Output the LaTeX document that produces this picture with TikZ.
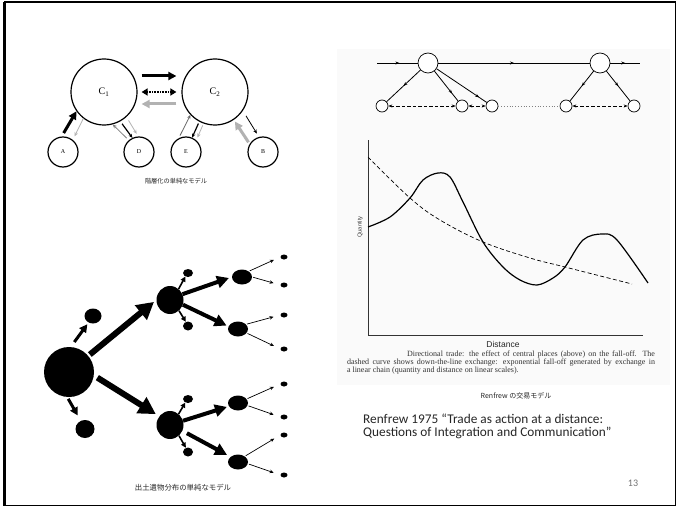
\documentclass[tikz,border=0pt]{standalone}
\usepackage{fontspec}
\setmainfont{Liberation Serif}
\newfontfamily\cjk{Noto Sans CJK JP}
\newfontfamily\slide{Carlito}
\newfontfamily\figsf{Liberation Sans}
\usetikzlibrary{positioning,arrows,arrows.meta,shapes.geometric,decorations.markings}

\begin{document}
\begin{tikzpicture}[x=1pt,y=-1pt,>=stealth',
    town/.style={circle,draw,line width=1.2pt,inner sep=0pt,minimum size=#1},
    place/.style={circle,draw,line width=0.7pt,fill=white,inner sep=0pt,minimum size=#1},
    blob/.style={ellipse,fill,inner sep=0pt},
    fat/.style={line width=3pt,-{Triangle[length=8pt,width=8pt]}},
    fine/.style={line width=0.8pt,-{Stealth[length=4pt,width=3.5pt]}},
    flow/.style={decoration={markings,mark=at position #1 with {\arrow{Stealth[length=4pt,width=3pt]}}},postaction={decorate}},
    swap/.style={dash pattern=on 3.5pt off 2pt,{Stealth[length=4pt,width=3pt]}-{Stealth[length=4pt,width=3pt]}},
    caption/.style={font=\cjk\fontsize{#1}{#1}\selectfont,text=black!85}]

\useasboundingbox (0,0) rectangle (679,508);
\fill[white] (0,0) rectangle (679,508);
\draw[line width=1.7pt] (4.5,1.8) rectangle (675.5,505.5);
\draw[line width=2.7pt] (4.5,1.8) -- (4.5,505.5);

% hierarchy model
\node[town=66pt,font=\fontsize{10}{10}\selectfont] (C1) at (104,92) {C\textsubscript{1}};
\node[town=66pt,font=\fontsize{10}{10}\selectfont] (C2) at (215,92) {C\textsubscript{2}};
\node[town=30pt,font=\fontsize{6}{6}\selectfont] (A) at (63,152) {A};
\node[town=30pt,font=\fontsize{6}{6}\selectfont] (D) at (139,152) {D};
\node[town=30pt,font=\fontsize{6}{6}\selectfont] (E) at (186,152) {E};
\node[town=30pt,font=\fontsize{6}{6}\selectfont] (B) at (263,152) {B};

\draw[fat] ([shift={(4,-16)}]C1.east) -- ([shift={(-5,-16)}]C2.west);
\draw[line width=1.8pt,dash pattern=on 0.8pt off 0.8pt,{Triangle[length=6pt,width=7pt]}-{Triangle[length=6pt,width=7pt]}]
    ([xshift=4pt]C1.east) -- ([xshift=-5pt]C2.west);
\draw[fat,gray!60] ([shift={(-5,12)}]C2.west) -- ([shift={(4,12)}]C1.east);

\draw[fat,shorten <=4pt] (A.95) -- (C1.215);
\draw[fine,gray!60,shorten >=4pt] (C1.232) -- (A.51);
\draw[fine,gray,shorten <=3pt] (D.131) -- (C1.285);
\draw[fine,line width=1.2pt,shorten <=3pt] (C1.299) -- (D.115);
\draw[fine,gray!60,shorten <=4pt,shorten >=3pt] (C1.312) -- (D.93);
\draw[fine,gray!80!black,shorten <=3pt] (E.118) -- (C2.223);
\draw[fine,line width=1.2pt,shorten <=2pt] (C2.242) -- (E.67);
\draw[fine,gray!60,shorten <=2pt,shorten >=3pt] (C2.250) -- (E.49);
\draw[fat,gray!60,shorten <=2pt,shorten >=2pt] (B.149) -- (C2.304);
\draw[fine,shorten <=6pt,shorten >=4pt] (C2.326) -- (B.105);

\node[caption=6.2] (cap1) at (176,181) {階層化の単純なモデル};

% distribution model
\node[blob,minimum width=50pt,minimum height=50pt] (G) at (69,372) {};
\node[blob,minimum width=17pt,minimum height=15pt] (u1) at (93,316) {};
\node[blob,minimum width=19pt,minimum height=18pt] (l1) at (85,429) {};
\node[blob,minimum width=27pt,minimum height=28pt] (M1) at (170,300) {};
\node[blob,minimum width=27pt,minimum height=28pt] (M2) at (170,425) {};
\node[blob,minimum width=10pt,minimum height=8pt] (m1a) at (188,273) {};
\node[blob,minimum width=10pt,minimum height=9pt] (m1b) at (188,326) {};
\node[blob,minimum width=10pt,minimum height=8pt] (m2a) at (188,399) {};
\node[blob,minimum width=10pt,minimum height=9pt] (m2b) at (188,452) {};
\node[blob,minimum width=20pt,minimum height=15pt] (T1) at (242,277) {};
\node[blob,minimum width=20pt,minimum height=15pt] (T2) at (238,329) {};
\node[blob,minimum width=20pt,minimum height=15pt] (T3) at (238,403) {};
\node[blob,minimum width=20pt,minimum height=15pt] (T4) at (238,462) {};
\foreach \n/\y in {1/257,2/285,3/315,4/349,5/384,6/417,7/435,8/475}
  \node[blob,minimum width=7pt,minimum height=5pt] (d\n) at (284,\y) {};

\draw[line width=6pt,-{Triangle[length=17pt,width=18pt]},shorten <=2pt,shorten >=3pt] (G.40) -- (M1.west);
\draw[line width=6pt,-{Triangle[length=17pt,width=18pt]},shorten <=4pt,shorten >=4pt] (G.-8) -- (M2.141);
\draw[line width=3pt,-{Triangle[length=8pt,width=8pt]},shorten <=6pt,shorten >=2pt] (G.86) -- (u1.236);
\draw[line width=3pt,-{Triangle[length=8pt,width=8pt]},shorten <=2pt,shorten >=6pt] (G.266) -- (l1.117);
\foreach \a/\b/\p/\q in {M1/m1a/52/233,M1/m1b/310/117,M2/m2a/52/233,M2/m2b/310/117}
  \draw[line width=1.6pt,-{Triangle[length=5pt,width=5pt]}] (\a.\p) -- (\b.\q);
\draw[line width=4pt,-{Triangle[length=12pt,width=12pt]},shorten >=3pt] (M1.25) -- (T1.west);
\draw[line width=4pt,-{Triangle[length=12pt,width=12pt]},shorten >=2pt] (M1.340) -- (T2.165);
\draw[line width=4pt,-{Triangle[length=12pt,width=12pt]},shorten >=2pt] (M2.18) -- (T3.200);
\draw[line width=4pt,-{Triangle[length=12pt,width=12pt]},shorten <=5pt,shorten >=4pt] (M2.335) -- (T4.145);
\foreach \a/\p/\b in {T1/40/d1,T1/0/d2,T2/30/d3,T2/-25/d4,T3/25/d5,T3/-15/d6,T4/40/d7,T4/-10/d8}
  \draw[fine,line width=0.7pt,shorten <=1pt,shorten >=7pt] (\a.\p) -- (\b.west);

\node[caption=7.4] (cap2) at (183,488) {出土遺物分布の単純なモデル};

% Renfrew figure
\fill[gray!4] (337,49) rectangle (670,385);
\coordinate (lin) at (377,63);
\coordinate (lout) at (640,63);
\node[place=20pt] (P1) at (428,63) {};
\node[place=20pt] (P2) at (600,63) {};
\foreach \n/\x in {1/382,2/462,3/492,4/566,5/634}
  \node[place=12pt] (s\n) at (\x,106) {};
\draw[line width=0.8pt,flow=0.55] (lin) -- (P1);
\draw[line width=0.8pt,flow=0.5] (P1) -- (P2);
\draw[line width=0.8pt,flow=0.5] (P2) -- (lout);
\draw[line width=0.8pt,flow=0.5] (P1) -- (s1);
\draw[line width=0.8pt,flow=0.75] (P1) -- (s2);
\draw[line width=0.8pt,flow=0.85] (P1) -- (s3);
\draw[line width=0.8pt,flow=0.5] (P2) -- (s4);
\draw[line width=0.8pt,flow=0.5] (P2) -- (s5);
\draw[line width=0.8pt,swap] (s1) -- (s2);
\draw[line width=0.8pt,swap] (s2) -- (s3);
\draw[line width=0.8pt,gray,dotted] (s3) -- (s4);
\draw[line width=0.8pt,swap] (s4) -- (s5);

\coordinate (ytop) at (368,140);
\coordinate (xend) at (643,335);
\draw[line width=0.7pt,black!80] (ytop) |- (xend);
\node[font=\figsf\fontsize{5.8}{6}\selectfont,rotate=90,text=black!75] (qty) at (360,227) {Quantity};
\node[font=\figsf\fontsize{8.5}{9}\selectfont,text=black!85] (dist) at (503,344) {Distance};
\draw[line width=1.2pt] plot[smooth,tension=0.55] coordinates {(368,227) (390,217) (410,198) (423,180) (438,173) (450,177) (463,202) (483,242) (503,267) (520,280) (537,285) (553,278) (565,267) (583,240) (602,234) (617,240) (648,283)};
\draw[line width=0.7pt,dash pattern=on 4pt off 2.5pt] plot[smooth,tension=0.6] coordinates {(368,157) (410,198) (440,220) (483,242) (530,258) (565,267) (632,284)};

\node[anchor=north,text width=308pt,align=justify,inner sep=0pt,font=\fontsize{8}{7.6}\selectfont,text=black!80] (figcap) at (501,351)
  {\hspace*{60pt}Directional trade: the effect of central places (above) on the fall-off. The\linebreak dashed curve shows down-the-line exchange: exponential fall-off generated by exchange in\linebreak a linear chain (quantity and distance on linear scales).};
\node[caption=7] (cap3) at (516,396) {Renfrew の交易モデル};

\node[anchor=north west,align=left,inner sep=0pt,font=\slide\fontsize{13.3}{13}\selectfont,text=black!85] (ref) at (363,414)
  {Renfrew 1975 “Trade as action at a distance:\\Questions of Integration and Communication”};
\node[font=\slide\fontsize{10}{10}\selectfont,text=black!55] (pg) at (633,483) {13};
\end{tikzpicture}
\end{document}
